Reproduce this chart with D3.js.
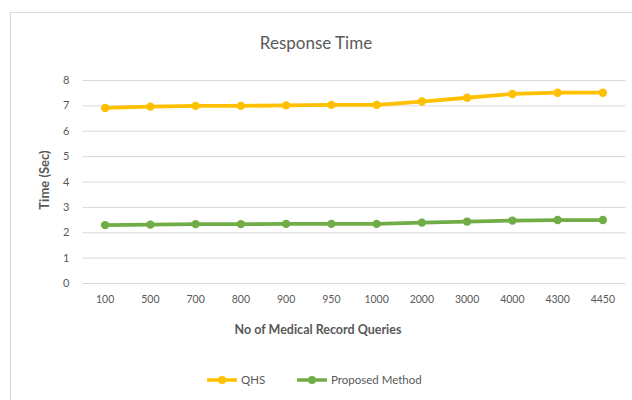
<!DOCTYPE html>
<html><head><meta charset="utf-8">
<script src="https://cdn.jsdelivr.net/npm/d3@7"></script>
<style>body{margin:0;background:#fff}svg{display:block;font-family:Lato,"Liberation Sans",sans-serif}</style>
</head><body><svg id="c" width="632" height="400"></svg>
<script>
const categories = ["100","500","700","800","900","950","1000","2000","3000","4000","4300","4450"];
const qhs = [6.9, 6.95, 6.98, 6.98, 7.0, 7.02, 7.02, 7.15, 7.3, 7.45, 7.5, 7.5];
const proposed = [2.28, 2.3, 2.32, 2.32, 2.33, 2.33, 2.33, 2.38, 2.42, 2.46, 2.48, 2.48];
const yTicks = [0,1,2,3,4,5,6,7,8];
const seriesNames = ["QHS", "Proposed Method"];
const colors = ["#FFC000", "#70AD47"];

const svg = d3.select("#c");
svg.append("rect").attr("x",10.5).attr("y",12.5).attr("width",640).attr("height",400)
  .attr("fill","#fff").attr("stroke","#d9d9d9");

const x = d3.scaleBand().domain(categories).range([82.5, 625.5]);
const y = d3.scaleLinear().domain([0,8]).range([283, 80]);

svg.append("text").attr("x",316).attr("y",49).attr("text-anchor","middle")
  .attr("font-size",17).attr("fill","#595959").text("Response Time");

const yAxis = svg.append("g").attr("transform","translate(82.5,0)")
  .call(d3.axisLeft(y).tickValues(yTicks).tickSize(-543).tickPadding(13));
yAxis.select(".domain").remove();
yAxis.selectAll("line").attr("stroke","#d9d9d9");
yAxis.selectAll("text").attr("fill","#595959").attr("font-size",11).attr("font-family","Lato,sans-serif");

const xAxis = svg.append("g").attr("transform","translate(0,283)")
  .call(d3.axisBottom(x).tickSize(0).tickPadding(13));
xAxis.select(".domain").remove();
xAxis.selectAll("text").attr("fill","#595959").attr("font-size",10.5).attr("font-family","Lato,sans-serif");

svg.append("text").attr("x",318).attr("y",334).attr("text-anchor","middle")
  .attr("font-size",12.5).attr("font-weight","bold").attr("fill","#595959").text("No of Medical Record  Queries");
svg.append("text").attr("transform","translate(49,180) rotate(-90)").attr("text-anchor","middle")
  .attr("font-size",13).attr("font-weight","bold").attr("fill","#595959").text("Time (Sec)");

const line = d3.line().x((d,i)=>x(categories[i])+x.bandwidth()/2).y(d=>y(d));
[qhs, proposed].forEach((s,k)=>{
  svg.append("path").datum(s).attr("d",line).attr("fill","none")
    .attr("stroke",colors[k]).attr("stroke-width",3.8).attr("stroke-linejoin","round");
  svg.selectAll(null).data(s).enter().append("circle")
    .attr("cx",(d,i)=>x(categories[i])+x.bandwidth()/2).attr("cy",d=>y(d))
    .attr("r",4.2).attr("fill",colors[k]);
});

const legX = [207, 297];
seriesNames.forEach((n,k)=>{
  const g = svg.append("g").attr("transform",`translate(${legX[k]},380)`);
  g.append("line").attr("x1",0).attr("x2",30).attr("y1",0).attr("y2",0)
    .attr("stroke",colors[k]).attr("stroke-width",3.5);
  g.append("circle").attr("cx",15).attr("cy",0).attr("r",4).attr("fill",colors[k]);
  g.append("text").attr("x",34).attr("y",4).attr("font-size",11.5).attr("fill","#595959").text(n);
});
</script></body></html>
